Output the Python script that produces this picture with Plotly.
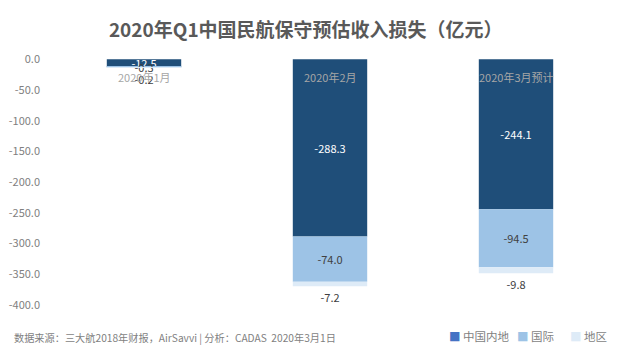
import plotly.graph_objects as go

categories = ["2020年1月", "2020年2月", "2020年3月预计"]
mainland = [-12.5, -288.3, -244.1]
international = [-0.3, -74.0, -94.5]
region = [-0.2, -7.2, -9.8]
series_names = ["中国内地", "国际", "地区"]
bar_colors = ["#1F4E79", "#9DC3E6", "#DEEBF7"]
legend_colors = ["#4472C4", "#9DC3E6", "#DEEBF7"]
text_colors = ["#FFFFFF", "#404040", "#404040"]
y_ticks = [0, -50, -100, -150, -200, -250, -300, -350, -400]

FONT = "Microsoft YaHei, Noto Sans CJK SC, sans-serif"

fig = go.Figure()
for i, (name, vals) in enumerate(zip(series_names, [mainland, international, region])):
    fig.add_trace(go.Bar(
        x=categories, y=vals, name=name,
        marker=dict(color=bar_colors[i], line=dict(width=0)),
        texttemplate="%{y:.1f}",
        textposition="outside" if i == 2 else "inside",
        insidetextanchor="middle",
        constraintext="none",
        cliponaxis=False,
        textfont=dict(color=text_colors[i], size=11, family=FONT),
        showlegend=False,
        hoverinfo="skip",
    ))

annotations = []
# category labels at the zero line (axis crossing), drawn inside the plot
for cat in categories:
    annotations.append(dict(
        text=cat, x=cat, y=0, xref="x", yref="y", xanchor="center", yanchor="top",
        yshift=-8, showarrow=False, font=dict(size=11, color="#A6A6A6", family=FONT)))

# legend drawn as annotations (marker square + name)
legend_x = [0.709, 0.831, 0.926]
for name, col, lx in zip(series_names, legend_colors, legend_x):
    annotations.append(dict(
        text=f"<span style='color:{col}'>■</span> {name}",
        xref="paper", yref="paper", x=lx, y=-0.128, xanchor="left", yanchor="middle",
        showarrow=False, font=dict(size=11.5, color="#7F7F7F", family=FONT)))
annotations.append(dict(
    text="数据来源：三大航2018年财报，AirSavvi | 分析：CADAS  2020年3月1日",
    xref="paper", yref="paper", x=-0.07, y=-0.134, xanchor="left", yanchor="middle",
    showarrow=False, font=dict(size=10.2, color="#7F7F7F", family=FONT)))

fig.update_layout(
    width=624, height=353,
    barmode="relative", bargap=0.6,
    plot_bgcolor="white", paper_bgcolor="white",
    margin=dict(l=51, r=15, t=59, b=48, autoexpand=False),
    font=dict(family=FONT, color="#595959"),
    showlegend=False,
    title=dict(text="<b>2020年Q1中国民航保守预估收入损失（亿元）</b>",
               x=0.49, xanchor="center", y=0.915, yanchor="middle",
               font=dict(size=19, color="#595959", family=FONT)),
    xaxis=dict(showticklabels=False, showline=False, showgrid=False, ticks="",
               fixedrange=True),
    yaxis=dict(range=[-400, 0.5], tickvals=y_ticks, ticktext=[f"{v:.1f}" for v in y_ticks],
               showgrid=False, zeroline=False, showline=False,
               tickfont=dict(size=11, color="#7F7F7F", family=FONT), ticklabelstandoff=10),
    annotations=annotations,
)

fig.write_html("out.html")
